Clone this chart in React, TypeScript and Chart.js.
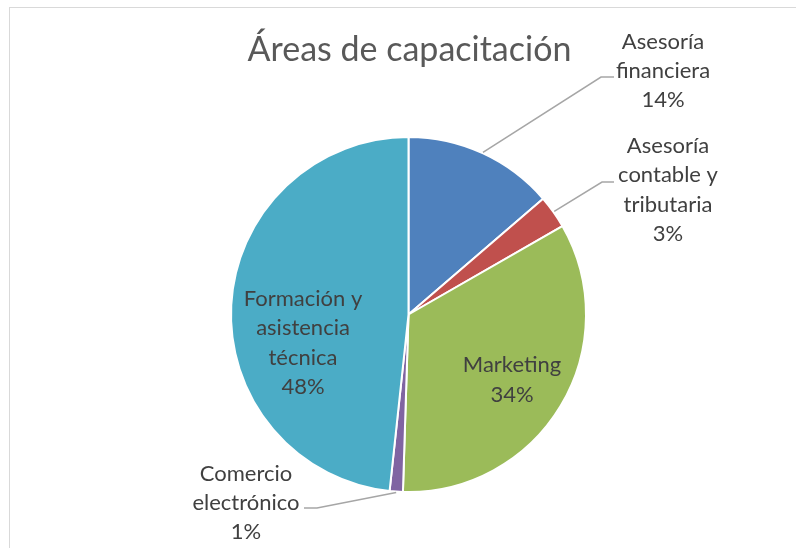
import React, { useEffect, useRef } from "react";
import { Chart, registerables } from "chart.js";

Chart.register(...registerables);

const chartTitle = "Áreas de capacitación";
const categories = [
  ["Asesoría", "financiera"],
  ["Asesoría", "contable y", "tributaria"],
  ["Marketing"],
  ["Comercio", "electrónico"],
  ["Formación y", "asistencia", "técnica"],
];
const shares = [13.7, 3.0, 33.8, 1.2, 48.3];
const percentLabels = ["14%", "3%", "34%", "1%", "48%"];
const sliceColors = ["#4F81BD", "#C0504D", "#9BBB59", "#8064A2", "#4BACC6"];

// layout of data labels (centre of text block) and leader line elbows
const labelLayout = [
  { x: 663, y: 71, outside: true, elbow: { x: 614, y: 77, x2: 601 } },
  { x: 668, y: 190, outside: true, elbow: { x: 614, y: 182, x2: 602 } },
  { x: 512, y: 380, outside: false },
  { x: 246, y: 503, outside: true, elbow: { x: 304, y: 508, x2: 317 } },
  { x: 303, y: 343, outside: false },
];

const FONT = "Lato, 'Open Sans', 'Noto Sans', sans-serif";

export default function App() {
  const ref = useRef<HTMLCanvasElement | null>(null);
  useEffect(() => {
    if (!ref.current) return;
    const overlay = {
      id: "overlay",
      beforeDraw(chart: any) {
        const ctx = chart.ctx;
        ctx.save();
        ctx.fillStyle = "#ffffff";
        ctx.fillRect(0, 0, chart.width, chart.height);
        ctx.strokeStyle = "#d9d9d9";
        ctx.lineWidth = 1;
        ctx.strokeRect(9.5, 7.5, 1000, 1000);
        ctx.restore();
      },
      afterDraw(chart: any) {
        const ctx = chart.ctx;
        ctx.save();
        ctx.fillStyle = "#595959";
        ctx.font = `34px ${FONT}`;
        ctx.textAlign = "center";
        ctx.textBaseline = "middle";
        ctx.fillText(chartTitle, 409.5, 50);

        const meta = chart.getDatasetMeta(0);
        meta.data.forEach((arc: any, i: number) => {
          const lay = labelLayout[i];
          const lines = [...categories[i], percentLabels[i]];
          if (lay.outside && lay.elbow) {
            const mid = (arc.startAngle + arc.endAngle) / 2;
            const r = arc.outerRadius + 1;
            const px = arc.x + Math.cos(mid) * r;
            const py = arc.y + Math.sin(mid) * r;
            ctx.strokeStyle = "#a6a6a6";
            ctx.lineWidth = 1.5;
            ctx.beginPath();
            ctx.moveTo(lay.elbow.x, lay.elbow.y);
            ctx.lineTo(lay.elbow.x2, lay.elbow.y);
            ctx.lineTo(px, py);
            ctx.stroke();
          }
          ctx.fillStyle = "#404040";
          ctx.font = `22px ${FONT}`;
          ctx.textAlign = "center";
          ctx.textBaseline = "middle";
          const lh = 29.3;
          const top = lay.y - ((lines.length - 1) * lh) / 2;
          lines.forEach((t, k) => ctx.fillText(t, lay.x, top + k * lh));
        });
        ctx.restore();
      },
    };
    const chart = new Chart(ref.current, {
      type: "pie",
      data: {
        labels: categories.map((c) => c.join(" ")),
        datasets: [
          {
            data: shares,
            backgroundColor: sliceColors,
            borderColor: "#ffffff",
            borderWidth: 2,
            hoverOffset: 0,
          },
        ],
      },
      options: {
        responsive: false,
        animation: false,
        layout: { padding: { left: 230, top: 136, right: 209, bottom: 55 } },
        plugins: {
          legend: { display: false },
          title: { display: false },
          tooltip: { enabled: false },
        },
        events: [],
      },
      plugins: [overlay],
    });
    return () => chart.destroy();
  }, []);
  return (
    <div style={{ position: "fixed", left: 0, top: 0, width: 796, height: 548 }}>
      <canvas ref={ref} width={796} height={548} style={{ width: 796, height: 548 }} />
    </div>
  );
}
